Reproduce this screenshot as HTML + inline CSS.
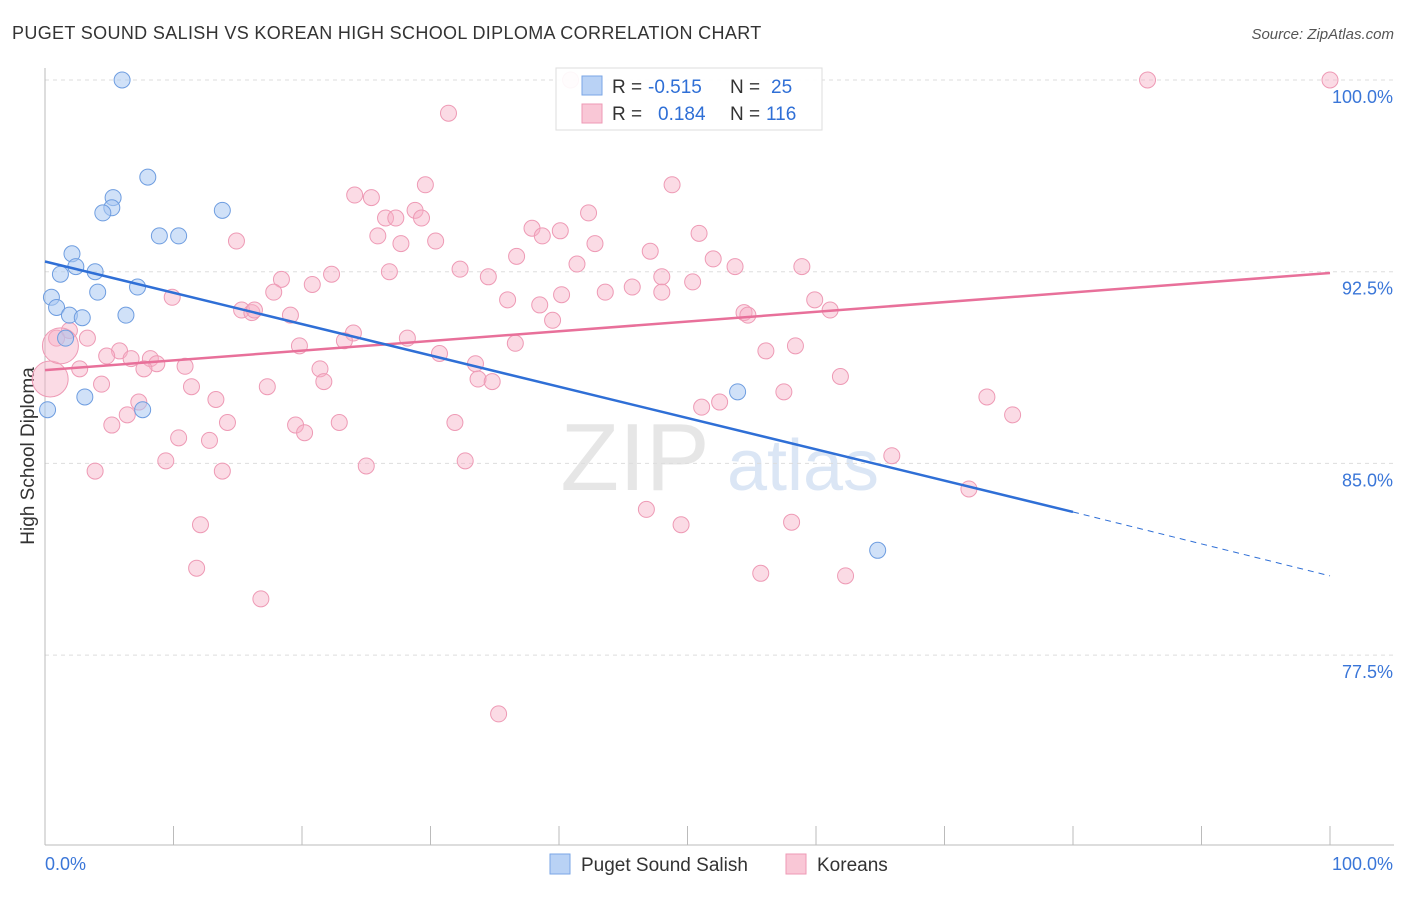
<!DOCTYPE html>
<html><head><meta charset="utf-8"><style>
body{margin:0;background:#fff;font-family:"Liberation Sans",sans-serif;}
svg text{font-family:"Liberation Sans",sans-serif;}
</style></head><body>
<svg id="chart" width="1406" height="892">
<text x="12" y="39" font-size="18" letter-spacing="0.35" fill="#333">PUGET SOUND SALISH VS KOREAN HIGH SCHOOL DIPLOMA CORRELATION CHART</text>
<text x="1394" y="39" font-size="15" fill="#555" text-anchor="end" font-style="italic">Source: ZipAtlas.com</text>
<text x="34" y="456" font-size="19" fill="#333" text-anchor="middle" transform="rotate(-90 34 456)">High School Diploma</text>
<g><text x="635" y="490" font-size="96" fill="#e6e6e6" font-family="Liberation Serif" text-anchor="middle">ZIP</text><text x="803" y="490" font-size="72" fill="#dbe6f5" text-anchor="middle">atlas</text></g>
<g id="grid"></g><g id="axes"></g><g id="marks"></g>
<g>
<rect x="556" y="68" width="266" height="62" fill="#fff" fill-opacity="0.92" stroke="#ddd"/>
<rect x="582" y="76" width="20" height="19" fill="#b9d2f5" stroke="#7aa6e6"/>
<rect x="582" y="104" width="20" height="19" fill="#f9c7d6" stroke="#ee9ab5"/>
<text x="612" y="93" font-size="19" fill="#333">R =</text>
<text x="648" y="93" font-size="19" fill="#2f6fd6">-0.515</text>
<text x="730" y="93" font-size="19" fill="#333">N =</text>
<text x="771" y="93" font-size="19" fill="#2f6fd6">25</text>
<text x="612" y="120" font-size="19" fill="#333">R =</text>
<text x="658" y="120" font-size="19" fill="#2f6fd6">0.184</text>
<text x="730" y="120" font-size="19" fill="#333">N =</text>
<text x="766" y="120" font-size="19" fill="#2f6fd6">116</text>
</g>
<g>
<rect x="550" y="854" width="20" height="20" fill="#b9d2f5" stroke="#7aa6e6"/>
<text x="581" y="871" font-size="19" fill="#333">Puget Sound Salish</text>
<rect x="786" y="854" width="20" height="20" fill="#f9c7d6" stroke="#ee9ab5"/>
<text x="817" y="871" font-size="19" fill="#333">Koreans</text>
</g>
</svg>
<script>
const yTicks=[100,92.5,85,77.5];
const yTickLabels=["100.0%","92.5%","85.0%","77.5%"];
const xLabels=["0.0%","100.0%"];
const blueX=[6.0,8.0,5.3,5.2,4.5,13.8,8.9,10.4,2.1,1.2,2.4,3.9,0.5,4.1,7.2,0.9,1.9,2.9,6.3,1.6,3.1,7.6,0.2,53.9,64.8];
const blueY=[100,96.2,95.4,95.0,94.8,94.9,93.9,93.9,93.2,92.4,92.7,92.5,91.5,91.7,91.9,91.1,90.8,90.7,90.8,89.9,87.6,87.1,87.1,87.8,81.6];
const pinkX=[40.9,85.8,100,31.4,29.6,48.8,24.1,25.4,42.3,28.8,26.5,27.3,29.3,37.9,40.1,25.9,27.7,30.4,38.7,50.9,14.9,42.8,47.1,36.7,52.0,41.4,53.7,58.9,32.3,26.8,22.3,34.5,48.0,18.4,20.8,50.4,45.7,43.6,40.2,17.8,48.0,9.9,36.0,38.5,59.9,61.1,15.3,16.1,16.3,19.1,54.4,54.7,39.5,1.9,3.3,0.9,28.2,24.0,19.8,23.3,36.6,58.4,56.1,30.7,5.8,4.8,6.7,8.2,8.7,7.7,2.7,10.9,33.5,21.4,33.7,34.8,21.7,4.4,11.4,17.3,61.9,57.5,52.5,51.1,73.3,75.3,13.3,7.3,6.4,5.2,14.2,19.5,22.9,20.2,31.9,10.4,12.8,65.9,9.4,32.7,25.0,3.9,13.8,71.9,46.8,12.1,49.5,58.1,11.8,55.7,62.3,16.8,35.3,0.4,1.2];
const pinkY=[100,100,100,98.7,95.9,95.9,95.5,95.4,94.8,94.9,94.6,94.6,94.6,94.2,94.1,93.9,93.6,93.7,93.9,94.0,93.7,93.6,93.3,93.1,93.0,92.8,92.7,92.7,92.6,92.5,92.4,92.3,92.3,92.2,92.0,92.1,91.9,91.7,91.6,91.7,91.7,91.5,91.4,91.2,91.4,91.0,91.0,90.9,91.0,90.8,90.9,90.8,90.6,90.2,89.9,89.9,89.9,90.1,89.6,89.8,89.7,89.6,89.4,89.3,89.4,89.2,89.1,89.1,88.9,88.7,88.7,88.8,88.9,88.7,88.3,88.2,88.2,88.1,88.0,88.0,88.4,87.8,87.4,87.2,87.6,86.9,87.5,87.4,86.9,86.5,86.6,86.5,86.6,86.2,86.6,86.0,85.9,85.3,85.1,85.1,84.9,84.7,84.7,84.0,83.2,82.6,82.6,82.7,80.9,80.7,80.6,79.7,75.2,88.3,89.6];
const pinkR=pinkX.map((v,i)=>i>=pinkX.length-2?18:8);
const blueTrend=[[0,92.9],[80,83.1],[100,80.6]];
const pinkTrend=[[0,88.65],[100,92.45]];
const NS="http://www.w3.org/2000/svg";
const sx=v=>45+v*12.85, sy=v=>80+(100-v)*25.56;
function mk(tag,at,parent){const e=document.createElementNS(NS,tag);for(const k in at)e.setAttribute(k,at[k]);document.getElementById(parent).appendChild(e);return e;}
yTicks.forEach((t,i)=>{
 const g=mk('line',{x1:45,x2:1394,y1:sy(t),y2:sy(t),stroke:'#ddd','stroke-dasharray':'4 4'},'grid');
 
 
 const l=mk('text',{x:1393,y:sy(t)+23,'font-size':18,fill:'#3a76d8','text-anchor':'end'},'axes');
 l.textContent=yTickLabels[i];
 
 
});
mk('line',{x1:45,x2:45,y1:68,y2:845,stroke:'#bbb'},'axes');
mk('line',{x1:45,x2:1394,y1:845,y2:845,stroke:'#bbb'},'axes');
for(let i=0;i<=10;i++){mk('line',{x1:sx(i*10),x2:sx(i*10),y1:826,y2:845,stroke:'#bbb'},'axes');}
const xl0=mk('text',{x:45,y:870,'font-size':18,fill:'#3a76d8'},'axes');xl0.textContent=xLabels[0];


const xl1=mk('text',{x:1393,y:870,'font-size':18,fill:'#3a76d8','text-anchor':'end'},'axes');xl1.textContent=xLabels[1];


pinkX.forEach((x,i)=>{
 const c=mk('circle',{cx:sx(x),cy:sy(pinkY[i]),r:pinkR[i],fill:'rgba(246,176,198,0.45)',stroke:'#ee9ab5','stroke-width':1},'marks');
 
 
});
blueX.forEach((x,i)=>{
 const c=mk('circle',{cx:sx(x),cy:sy(blueY[i]),r:8,fill:'rgba(170,200,242,0.55)',stroke:'#6e9de0','stroke-width':1},'marks');
 
 
});
const pl=mk('line',{x1:sx(pinkTrend[0][0]),y1:sy(pinkTrend[0][1]),x2:sx(pinkTrend[1][0]),y2:sy(pinkTrend[1][1]),stroke:'#e8709a','stroke-width':2.5},'marks');


const bl=mk('line',{x1:sx(blueTrend[0][0]),y1:sy(blueTrend[0][1]),x2:sx(blueTrend[1][0]),y2:sy(blueTrend[1][1]),stroke:'#2f6fd6','stroke-width':2.5},'marks');


const bd=mk('line',{x1:sx(blueTrend[1][0]),y1:sy(blueTrend[1][1]),x2:sx(blueTrend[2][0]),y2:sy(blueTrend[2][1]),stroke:'#2f6fd6','stroke-width':1,'stroke-dasharray':'6 5'},'marks');


</script>
</body></html>
